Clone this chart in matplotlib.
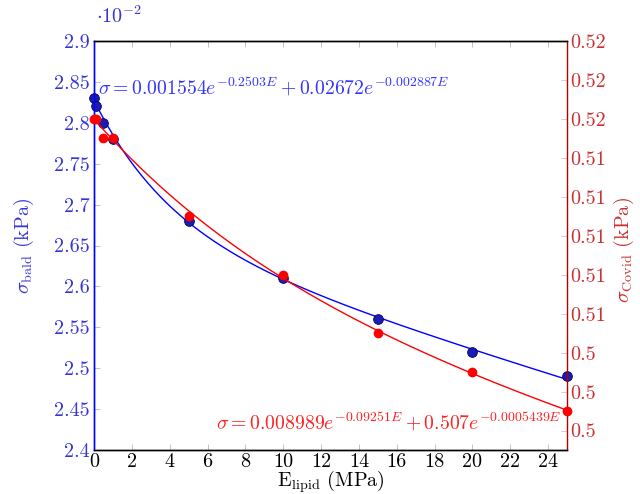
import numpy as np
import matplotlib
matplotlib.use('Agg')
import matplotlib.pyplot as plt
from matplotlib.ticker import FixedLocator

plt.rcParams['font.family'] = 'cmr10'
plt.rcParams['mathtext.fontset'] = 'cm'
plt.rcParams['axes.formatter.use_mathtext'] = True

# data
E_pts = [0, 0.1, 0.5, 1, 5, 10, 15, 20, 25]
bald = [2.83, 2.82, 2.80, 2.78, 2.68, 2.61, 2.56, 2.52, 2.49]   # x 1e-2 kPa
covid = [0.516, 0.516, 0.515, 0.515, 0.511, 0.508, 0.505, 0.503, 0.501]

# fitted coefficients (from the equations on the chart)
bald_fit = (0.001554, -0.2503, 0.02672, -0.002887)
covid_fit = (0.008989, -0.09251, 0.507, -0.0005439)

x_ticks = list(range(0, 25, 2))
left_ticks = [2.4, 2.45, 2.5, 2.55, 2.6, 2.65, 2.7, 2.75, 2.8, 2.85, 2.9]
right_ticks = [0.500, 0.502, 0.504, 0.506, 0.508, 0.510, 0.512, 0.514, 0.516, 0.518, 0.520]

E = np.linspace(0, 25, 300)
a, b, c, d = bald_fit
bald_curve = (a * np.exp(b * E) + c * np.exp(d * E)) * 100
a, b, c, d = covid_fit
covid_curve = a * np.exp(b * E) + c * np.exp(d * E)

fs = 14.5
fig = plt.figure(figsize=(6.4, 4.94), dpi=100)
ax = fig.add_axes([94 / 640, 1 - 450 / 494, 473 / 640, 409 / 494])
ax2 = ax.twinx()

blue_txt = '#3434d8'
red_txt = '#c83030'

ax.plot(E, bald_curve, color='#0000ff', lw=1.0, zorder=2)
ax.plot(E_pts, bald, 'o', ms=7, mfc='#1c1cb0', mec='#00006a', mew=0.6,
        clip_on=False, zorder=5)
ax2.plot(E, covid_curve, color='#ff0000', lw=1.0, zorder=2)
ax2.plot(E_pts, covid, 'o', ms=6, mfc='#ff0000', mec='#ff0000',
         clip_on=False, zorder=4)

ax.set_xlim(0, 25)
ax.set_ylim(2.4, 2.9)
ax2.set_ylim(0.499, 0.520)

ax.xaxis.set_major_locator(FixedLocator(x_ticks))
ax.set_xticklabels([str(t) for t in x_ticks])
ax.yaxis.set_major_locator(FixedLocator(left_ticks))
ax.set_yticklabels(['%g' % t for t in left_ticks])
ax2.yaxis.set_major_locator(FixedLocator(right_ticks))
ax2.set_yticklabels(['%g' % round(t, 2) for t in right_ticks])

ax.tick_params(axis='x', direction='in', length=4, width=0.5, color='#aaaaaa',
               labelsize=fs, top=True, pad=2)
ax.tick_params(axis='y', direction='in', length=4, width=0.5, color='#aaaaaa',
               labelsize=fs, labelcolor=blue_txt, pad=3)
ax2.tick_params(axis='y', direction='in', length=4, width=0.5, color='#e0b0b0',
                labelsize=fs, labelcolor=red_txt, pad=2)

ax.spines['left'].set_color('#0000ff')
ax2.spines['left'].set_color('#0000ff')
ax2.spines['right'].set_color('#b00000')
ax.spines['right'].set_visible(False)
for sp in list(ax.spines.values()) + list(ax2.spines.values()):
    sp.set_linewidth(1.0)

ax.set_xlabel(r'E$_\mathrm{lipid}$ (MPa)', fontsize=fs, va='baseline')
ax.xaxis.set_label_coords(0.5, -0.089)
ax.set_ylabel(r'$\sigma_\mathrm{bald}$ (kPa)', fontsize=fs, color=blue_txt)
ax.yaxis.set_label_coords(-0.123, 0.5)
ax2.set_ylabel(r'$\sigma_\mathrm{Covid}$ (kPa)', fontsize=fs, color=red_txt)
ax2.yaxis.set_label_coords(1.095, 0.49)

ax.text(0.004, 1.045, r'$\cdot 10^{-2}$', transform=ax.transAxes, fontsize=fs,
        color=blue_txt, ha='left', va='baseline')

ax.text(0.0085, 0.868, r'$\sigma = 0.001554e^{-0.2503E} + 0.02672e^{-0.002887E}$',
        transform=ax.transAxes, fontsize=14.2, color='#3333ff', ha='left',
        va='baseline', zorder=6)
ax.text(0.989, 0.049, r'$\sigma = 0.008989e^{-0.09251E} + 0.507e^{-0.0005439E}$',
        transform=ax.transAxes, fontsize=14.2, color='#ff2020', ha='right',
        va='baseline', zorder=6)

fig.savefig('out.png', dpi=100)
